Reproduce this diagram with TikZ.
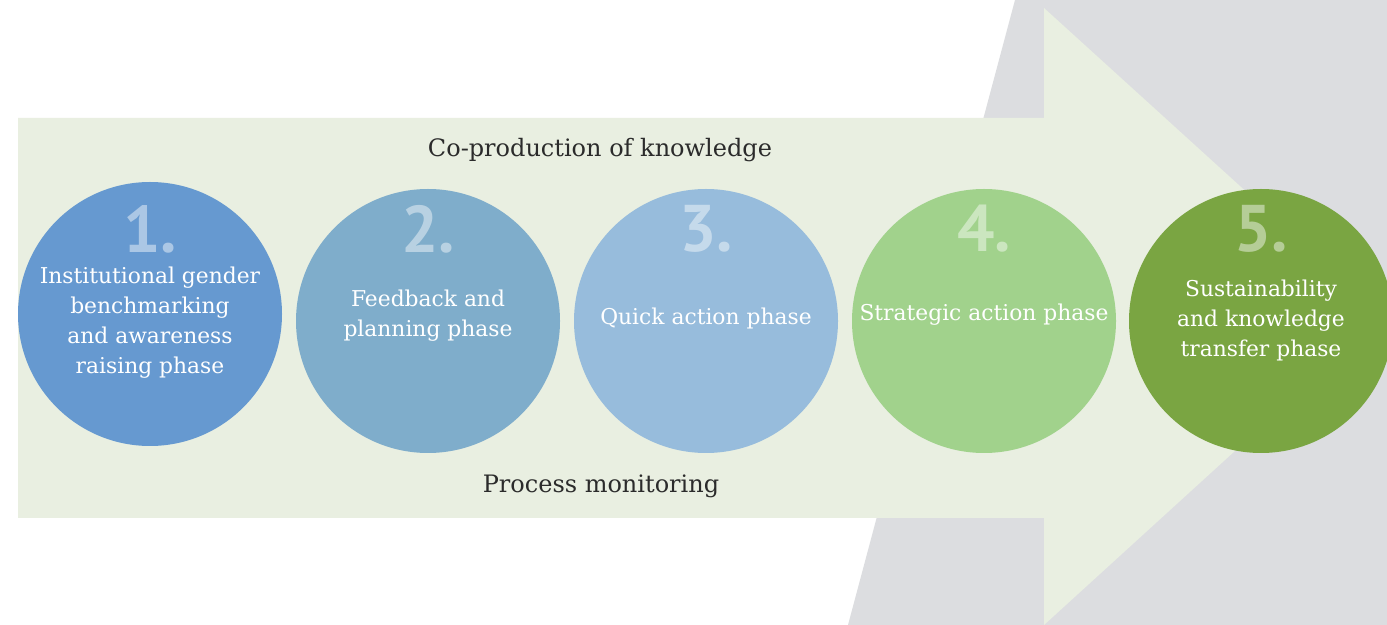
\documentclass[tikz,border=0pt]{standalone}
\usepackage{fontspec}
\setmainfont{DejaVu Serif}
\newfontfamily\numfont{PT Sans}
\usepackage{xcolor}
\usepackage{tikz}

\definecolor{backgray}{HTML}{DCDDE0}
\definecolor{arrowgreen}{HTML}{E9EFE1}
\definecolor{labeltext}{HTML}{2B2B2B}
\definecolor{phaseone}{HTML}{6699D0}
\definecolor{phasetwo}{HTML}{7FADCB}
\definecolor{phasethree}{HTML}{97BCDC}
\definecolor{phasefour}{HTML}{A1D28C}
\definecolor{phasefive}{HTML}{7AA542}

\begin{document}
\begin{tikzpicture}[
  x=0.5pt,y=-0.5pt,
  phase/.style={circle,inner sep=0pt,minimum size=132pt},
  phasenum/.style={inner sep=0pt,text=white,text opacity=0.45,font=\numfont\bfseries\fontsize{33}{33}\selectfont},
  phasetext/.style={inner sep=0pt,align=center,text=white,font=\fontsize{10.9}{15}\selectfont},
  bandlabel/.style={inner sep=0pt,text=labeltext,font=\fontsize{12}{15}\selectfont}
]
  \useasboundingbox (0,0) rectangle (1387,625);
  \fill[white] (0,0) rectangle (1387,625);

  % background band and arrow
  \fill[backgray] (1015,0) -- (1387,0) -- (1387,625) -- (848,625) -- cycle;
  \fill[arrowgreen] (18,118) -- (1044,118) -- (1044,8) -- (1383,316)
    -- (1044,625) -- (1044,518) -- (18,518) -- cycle;

  \node[bandlabel] (coprod) at (600,150) {Co-production of knowledge};
  \node[bandlabel] (monitor) at (601,486) {Process monitoring};

  % phases
  \node[phase,fill=phaseone]   (p1) at (150,314)  {};
  \node[phase,fill=phasetwo]   (p2) at (428,321)  {};
  \node[phase,fill=phasethree] (p3) at (706,321)  {};
  \node[phase,fill=phasefour]  (p4) at (984,321)  {};
  \node[phase,fill=phasefive]  (p5) at (1261,321) {};

  \node[phasenum] (n1) at (150,229)  {1.};
  \node[phasenum] (n2) at (428,229)  {2.};
  \node[phasenum] (n3) at (706,229)  {3.};
  \node[phasenum] (n4) at (984,229)  {4.};
  \node[phasenum] (n5) at (1261,229) {5.};

  \node[phasetext] (t1) at (150,323)
    {Institutional gender\\benchmarking\\and awareness\\raising phase};
  \node[phasetext] (t2) at (428,316) {Feedback and\\planning phase};
  \node[phasetext] (t3) at (706,318) {Quick action phase};
  \node[phasetext] (t4) at (984,315) {Strategic action phase};
  \node[phasetext] (t5) at (1261,320)
    {Sustainability\\and knowledge\\transfer phase};
\end{tikzpicture}
\end{document}
